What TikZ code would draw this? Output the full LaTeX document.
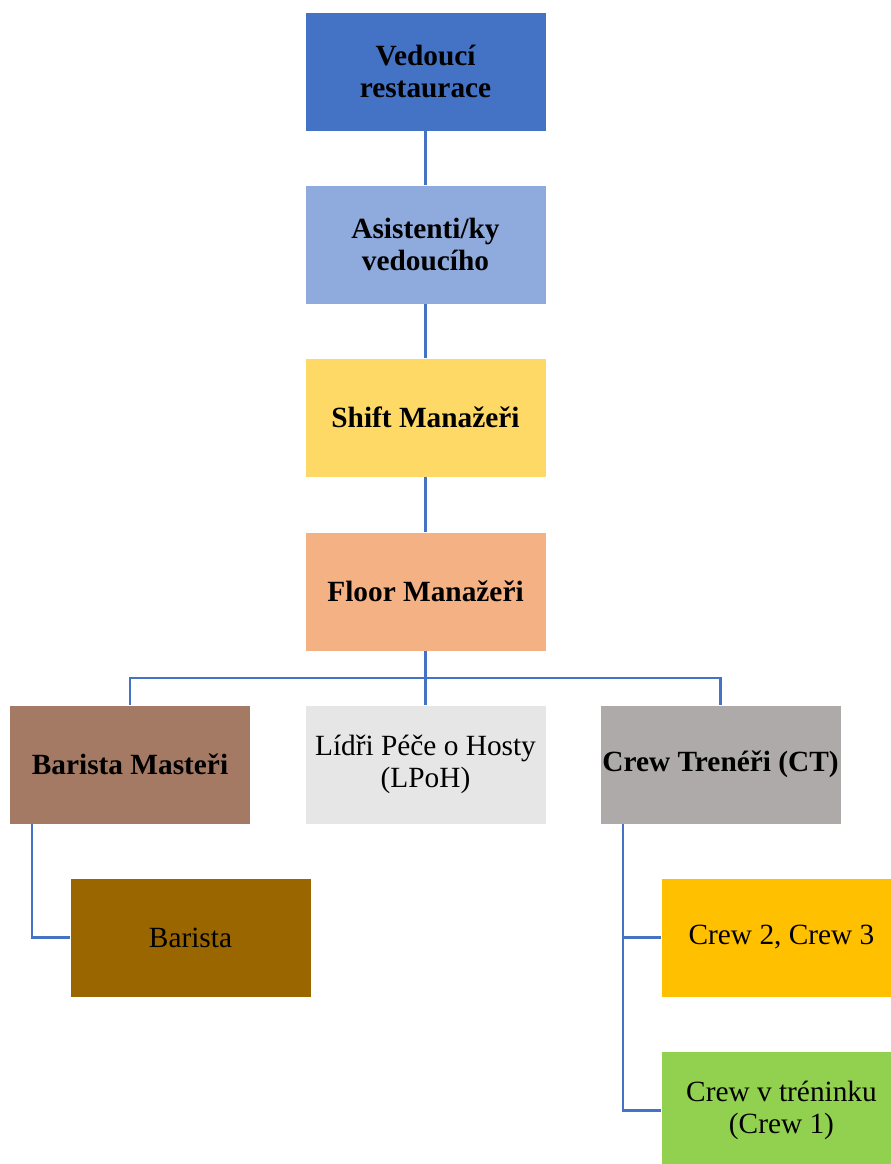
\documentclass[tikz,border=0pt]{standalone}
\usepackage{fontspec}
\setmainfont{Liberation Serif}
\usepackage{tikz}

\definecolor{vedblue}{HTML}{4472C4}
\definecolor{asblue}{HTML}{8FAADC}
\definecolor{shyellow}{HTML}{FFD966}
\definecolor{flpeach}{HTML}{F4B183}
\definecolor{bmbrown}{HTML}{A57A65}
\definecolor{lpgray}{HTML}{E7E6E6}
\definecolor{ctgray}{HTML}{AEAAAA}
\definecolor{babrown}{HTML}{996600}
\definecolor{crorange}{HTML}{FFC000}
\definecolor{crgreen}{HTML}{92D050}

\begin{document}
\begin{tikzpicture}[x=0.75pt, y=-0.75pt]
\tikzstyle{box} = [rectangle, draw=white, line width=0.5pt, inner sep=0pt,
  minimum width=180.75pt, minimum height=89.25pt, align=center,
  font=\fontsize{22}{24}\selectfont]
\tikzstyle{link} = [draw=vedblue, line width=1.6pt]
\useasboundingbox (0,0) rectangle (891,1164);

\node[box, fill=vedblue, font=\fontsize{22}{24}\selectfont\bfseries] (ved) at (425.5, 71.5) {Vedoucí\\restaurace};
\node[box, fill=asblue, font=\fontsize{22}{24}\selectfont\bfseries] (asi) at (425.5, 244.5) {Asistenti/ky\\vedoucího};
\node[box, fill=shyellow, font=\fontsize{22}{24}\selectfont\bfseries] (shm) at (425.5, 417.5) {Shift Manažeři};
\node[box, fill=flpeach, font=\fontsize{22}{24}\selectfont\bfseries] (flm) at (425.5, 591.5) {Floor Manažeři};

\node[box, fill=bmbrown, font=\fontsize{22}{24}\selectfont\bfseries] (bm) at (130, 764.5) {Barista Masteři};
\node[box, fill=lpgray] (lp) at (425.5, 764.5) {Lídři Péče o Hosty\\(LPoH)};
\node[box, fill=ctgray, font=\fontsize{22}{24}\selectfont\bfseries] (ct) at (720.5, 764.5) {Crew Trenéři (CT)};

\node[box, fill=babrown] (ba) at (190.5, 937.5) {Barista};
\node[box, fill=crorange] (c23) at (781.5, 937.5) {Crew 2, Crew 3};
\node[box, fill=crgreen] (c1) at (781.5, 1110.5) {Crew v tréninku\\(Crew 1)};

\draw[link] (ved) -- (asi);
\draw[link] (asi) -- (shm);
\draw[link] (shm) -- (flm);
\draw[link] (flm.south) -- (lp.north);
\draw[link] (flm.south) -- ++(0,27) -| (bm.north);
\draw[link] (flm.south) -- ++(0,27) -| (ct.north);

% podrizeni
\draw[link] ([xshift=17.25pt]bm.south west) |- (ba.west);
\draw[link] ([xshift=17.25pt]ct.south west) |- (c23.west);
\draw[link] ([xshift=17.25pt]ct.south west) |- (c1.west);
\end{tikzpicture}
\end{document}
